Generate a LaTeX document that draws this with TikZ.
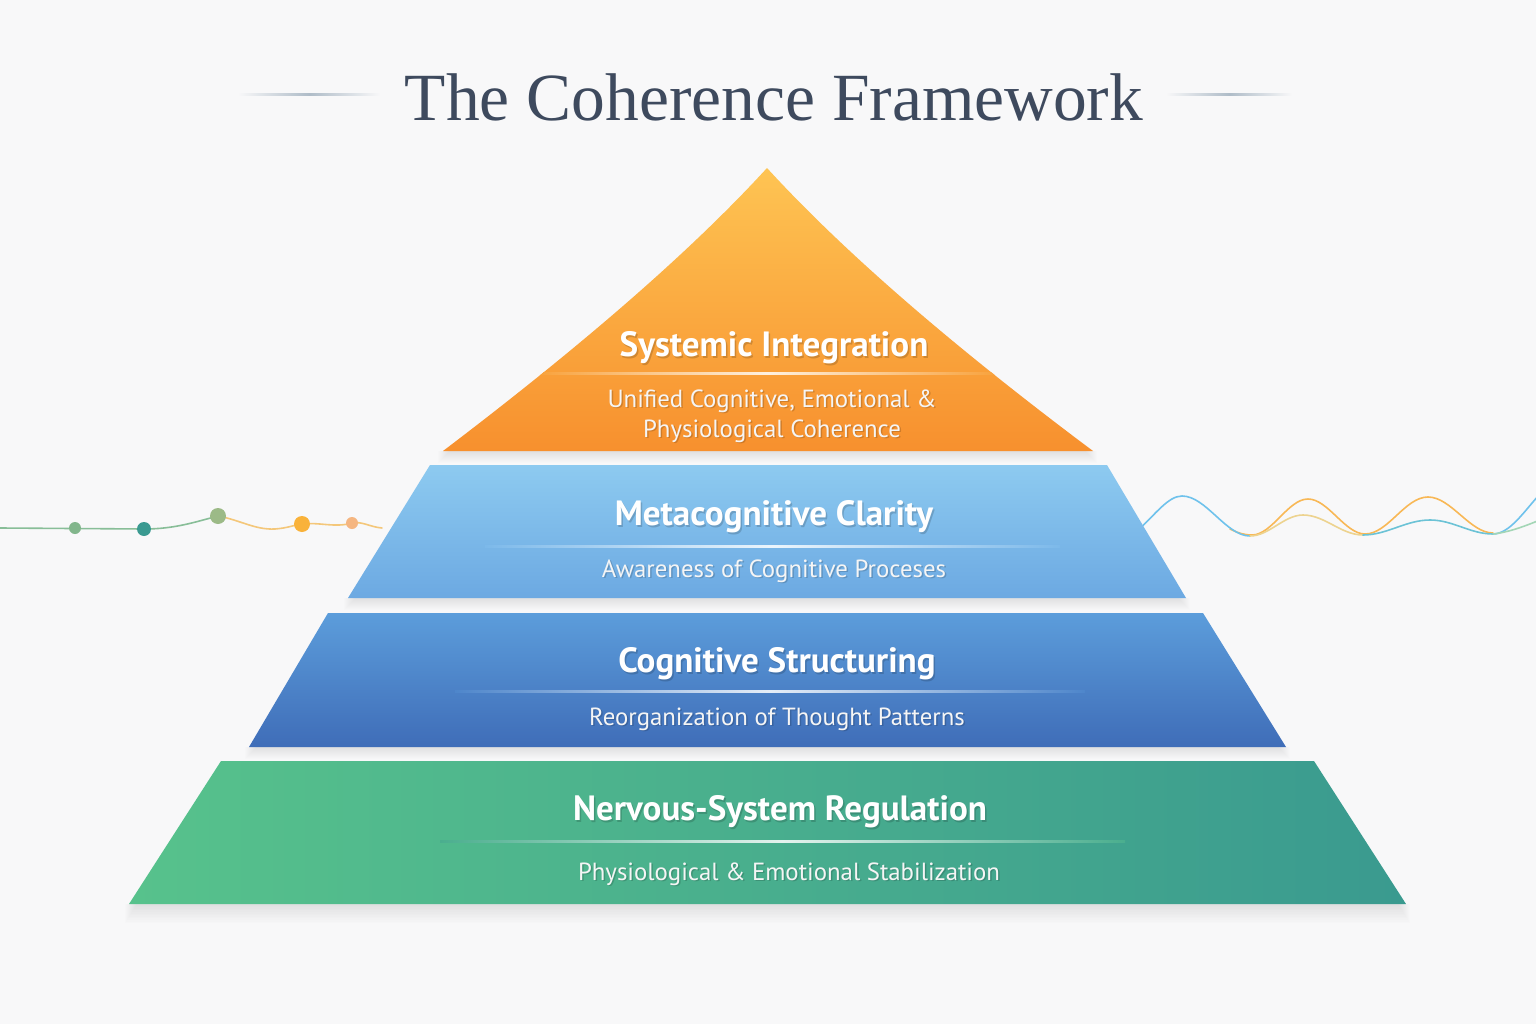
\documentclass[tikz,border=0pt]{standalone}
\usepackage{fontspec}
\setmainfont{Liberation Serif}
\newfontfamily\labfont{PT Sans}
\definecolor{bg}{HTML}{F8F8F9}
\definecolor{titlec}{HTML}{3E4A5E}
\definecolor{oA}{HTML}{FEC453}
\definecolor{oB}{HTML}{F7902E}
\definecolor{bA}{HTML}{8DCAF0}
\definecolor{bB}{HTML}{6CA9E2}
\definecolor{cA}{HTML}{5C9DDB}
\definecolor{cB}{HTML}{3F6DB8}
\definecolor{gA}{HTML}{57C28C}
\definecolor{gB}{HTML}{3A9A8F}
\definecolor{wGreen}{HTML}{88BE98}
\definecolor{wOrange}{HTML}{F4C77A}
\definecolor{dotA}{HTML}{82B68C}
\definecolor{dotB}{HTML}{3A9A91}
\definecolor{dotC}{HTML}{9CBA87}
\definecolor{dotD}{HTML}{F9B23A}
\definecolor{dotE}{HTML}{F5B681}
\definecolor{wBlue}{HTML}{6FC2EC}
\definecolor{wYel}{HTML}{EDD38F}
\definecolor{wTeal}{HTML}{6CC3D6}
\definecolor{wOr}{HTML}{F8B856}
\definecolor{wMint}{HTML}{A3D6B6}
\definecolor{tline}{HTML}{AFBCC8}
\definecolor{d1}{HTML}{F89F36}
\definecolor{d2}{HTML}{7CB9EA}
\definecolor{d3}{HTML}{4E86CB}
\definecolor{d4}{HTML}{4AAE8E}
\tikzset{
  head/.style={font=\labfont\bfseries\fontsize{26.3}{30}\selectfont, text=white, anchor=center, inner sep=0pt},
  sub/.style={font=\labfont\fontsize{18.6}{22}\selectfont, text=white!96!black, anchor=center, inner sep=0pt},
  tshadow/.style={text=black, opacity=0.16},
  wave/.style={line width=1.2pt, line cap=round},
}
\begin{document}
\begin{tikzpicture}[x=0.75pt,y=-0.75pt]
\useasboundingbox (0,0) rectangle (1536,1024);
\fill[bg] (0,0) rectangle (1536,1024);

% title
\node[font=\fontsize{50.6}{56}\selectfont, text=titlec, inner sep=0pt] (title) at (774,97) {The Coherence Framework};
\shade[left color=bg, right color=bg, middle color=tline] (238,94) rectangle (380,96);
\shade[left color=bg, right color=bg, middle color=tline] (1166,94) rectangle (1292,96);

% left wave
\draw[wave, wGreen] (0,528) -- (144,529) .. controls (175,529) and (195,522) .. (218,516);
\draw[wave, wOrange] (218,516) .. controls (240,520) and (255,530) .. (275,529) .. controls (288,528) and (294,525) .. (302,524) .. controls (320,522) and (335,528) .. (352,523) .. controls (362,521) and (370,527) .. (382,528);
\fill[dotA] (75,528) circle (6);
\fill[dotB] (144,529) circle (7);
\fill[dotC] (218,516) circle (8);
\fill[dotD] (302,524) circle (8);
\fill[dotE] (352,523) circle (6);

% right waves
\draw[wave, wOr] (1230,529) .. controls (1240,534) and (1246,535) .. (1252,535) .. controls (1272,535) and (1288,499) .. (1308,499) .. controls (1328,499) and (1345,534) .. (1365,534) .. controls (1388,534) and (1405,497) .. (1428,497) .. controls (1451,497) and (1470,533) .. (1493,533);
\draw[wave, wBlue] (1138,530) .. controls (1155,515) and (1168,496) .. (1182,496) .. controls (1206,496) and (1226,536) .. (1250,536);
\draw[wave, wYel] (1250,536) .. controls (1269,536) and (1284,515) .. (1303,515) .. controls (1325,515) and (1341,535) .. (1363,535);
\draw[wave, wTeal] (1363,535) .. controls (1387,535) and (1406,520) .. (1430,520) .. controls (1453,520) and (1470,534) .. (1493,534);
\draw[wave, wBlue] (1493,534) .. controls (1510,534) and (1525,510) .. (1540,494);
\draw[wave, wMint] (1493,534) .. controls (1510,532) and (1525,526) .. (1540,520);

% soft shadows
\foreach \k in {1,2,...,12} {
  \fill[black, opacity=0.007] (450-\k,451) rectangle (1085+\k,451+\k);
  \fill[black, opacity=0.007] (356-\k,598) rectangle (1178+\k,598+\k);
  \fill[black, opacity=0.007] (257-\k,747) rectangle (1278+\k,747+\k);
  \fill[black, opacity=0.008] (137-\k,904) rectangle (1398+\k,904+1.6*\k);
}

% layer 1
\shade[top color=oA, bottom color=oB] (767,168) .. controls (692,250) and (584,344) .. (443,451) -- (1093,451) .. controls (950,344) and (842,250) .. (767,168) -- cycle;
% layer 2
\shade[top color=bA, bottom color=bB] (430,465) -- (1107,465) -- (1186,598) -- (348,598) -- cycle;
% layer 3
\shade[top color=cA, bottom color=cB] (328,613) -- (1203,613) -- (1286,747) -- (249,747) -- cycle;
% layer 4
\shade[left color=gA, right color=gB] (221,761) -- (1314,761) -- (1406,904) -- (129,904) -- cycle;

% dividers
\begin{scope}
\clip (767,168) .. controls (692,250) and (584,344) .. (443,451) -- (1093,451) .. controls (950,344) and (842,250) .. (767,168) -- cycle;
\shade[left color=d1, right color=d1, middle color=white!85!d1] (530,372) rectangle (1005,374);
\end{scope}
\shade[left color=d2, right color=d2, middle color=white!85!d2] (485,545) rectangle (1060,547);
\shade[left color=d3, right color=d3, middle color=white!85!d3] (455,690) rectangle (1085,692);
\shade[left color=d4, right color=d4, middle color=white!85!d4] (440,840) rectangle (1125,842);

% texts
\node[head, tshadow] (h1s) at (775.5,350) {Systemic Integration};
\node[head] (h1) at (774,348) {Systemic Integration};
\node[sub, tshadow] (s1s) at (773.5,402.5) {Unified Cognitive, Emotional \&};
\node[sub] (s1) at (772,401) {Unified Cognitive, Emotional \&};
\node[sub, tshadow] (s1bs) at (773.5,432.5) {Physiological Coherence};
\node[sub] (s1b) at (772,431) {Physiological Coherence};

\node[head, tshadow] (h2s) at (775.5,519) {Metacognitive Clarity};
\node[head] (h2) at (774,517) {Metacognitive Clarity};
\node[sub, tshadow] (s2s) at (775.5,572.5) {Awareness of Cognitive Proceses};
\node[sub] (s2) at (774,571) {Awareness of Cognitive Proceses};

\node[head, tshadow] (h3s) at (778.5,666) {Cognitive Structuring};
\node[head] (h3) at (777,664) {Cognitive Structuring};
\node[sub, tshadow] (s3s) at (778.5,720.5) {Reorganization of Thought Patterns};
\node[sub] (s3) at (777,719) {Reorganization of Thought Patterns};

\node[head, tshadow] (h4s) at (781.5,814) {Nervous-System Regulation};
\node[head] (h4) at (780,812) {Nervous-System Regulation};
\node[sub, tshadow] (s4s) at (790.5,875.5) {Physiological \& Emotional Stabilization};
\node[sub] (s4) at (789,874) {Physiological \& Emotional Stabilization};
\end{tikzpicture}
\end{document}
